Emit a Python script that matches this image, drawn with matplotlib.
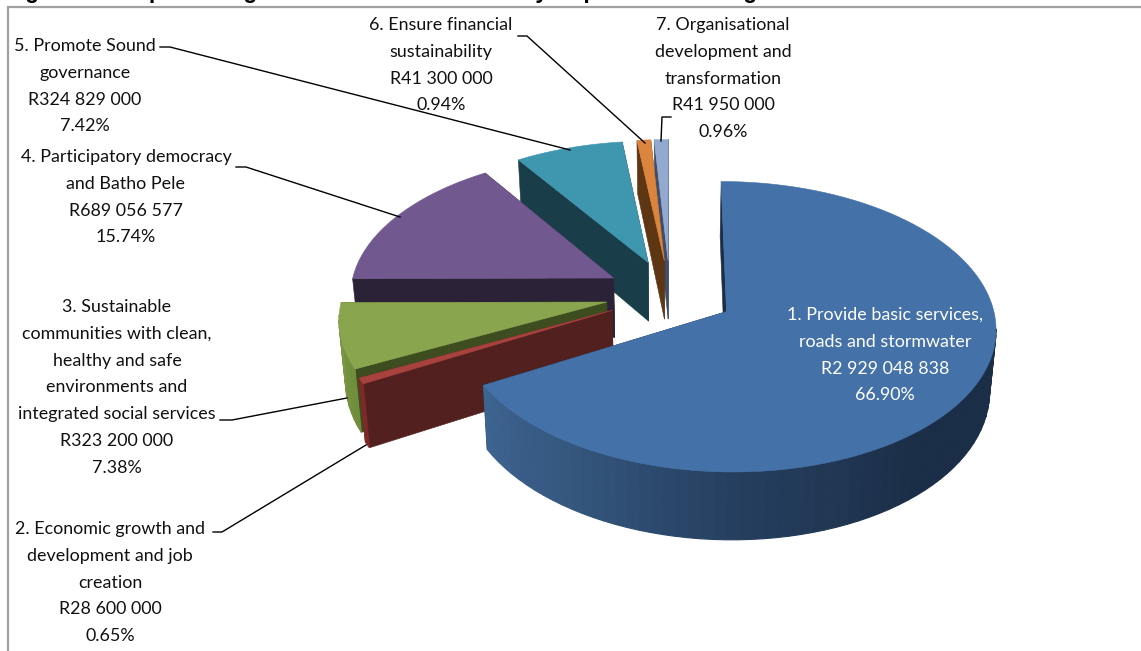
import numpy as np
import matplotlib
matplotlib.use("Agg")
import matplotlib.pyplot as plt
from matplotlib.colors import to_rgb
from matplotlib.patches import Polygon

# ---- data ----
values = [2929048838, 28600000, 323200000, 689056577, 324829000, 41300000, 41950000]
top_colors = ["#4471A7", "#A8423F", "#89A54E", "#71588F", "#3F96AF", "#DB843D", "#93A9CF"]
arc_colors = [
    [(240, "#3D6390"), (215, "#35587F"), (180, "#263F60"), (140, "#1B2E47"), (0, "#1B2E47")],
    [(0, "#7E2A28"), (360, "#7E2A28")],
    [(243, "#6F8C3C"), (270, "#7D9C44")],
    [(0, "#2C2238"), (360, "#2C2238")],
    [(0, "#1A3D4A"), (360, "#1A3D4A")],
    [(0, "#5E3614"), (360, "#5E3614")],
    [(0, "#3F4E6C"), (360, "#3F4E6C")],
]
wall_colors = ["#1B2E47", "#52201E", "#3E4D1F", "#2C2238", "#1A3D4A", "#5E3614", "#3F4E6C"]
draw_order = [6, 5, 4, 3, 2, 1, 0]

labels = [
    ["1. Provide basic services,", "roads and stormwater", "R2 929 048 838", "66.90%"],
    ["2. Economic growth and", "development and job", "creation", "R28 600 000", "0.65%"],
    ["3. Sustainable", "communities with clean,", "healthy and safe", "environments and",
     "integrated social services", "R323 200 000", "7.38%"],
    ["4. Participatory democracy", "and Batho Pele", "R689 056 577", "15.74%"],
    ["5. Promote Sound", "governance", "R324 829 000", "7.42%"],
    ["6. Ensure financial", "sustainability", "R41 300 000", "0.94%"],
    ["7. Organisational", "development and", "transformation", "R41 950 000", "0.96%"],
]
label_pos = [(885, 315), (110, 529), (117, 307), (126, 157), (85, 46), (441, 25), (723, 25)]
leaders = [
    None,
    [(213, 532), (222, 532), (366, 445)],
    [(220, 420), (232, 420), (347, 398)],
    [(236, 167), (246, 167), (400, 217)],
    [(160, 47), (170, 47), (570, 150)],
    [(518, 36), (527, 36), (645, 143)],
    [(671, 117), (662, 117), (661, 141)],
]
title = "Figure 12: Capital budget allocation for 2015/16 by Departmental Programme"

# ---- projection parameters (pixels) ----
CX, CY = 670, 294
RX, RY, K = 264, 140, 0.103
DEPTH, SHRINK = 60, 0.02
EXPLODE = 0.245


def project(ex, ey, z):
    """ex: east, ey: south (radius units); z: 0 top, 1 bottom"""
    s = 1 / (1 - K * ey)
    return CX + RX * ex * s * (1 - SHRINK * z), CY + RY * ey * s + DEPTH * z * s


def rim(a):
    r = np.radians(a)
    return np.sin(r), -np.cos(r)


def blend(stops, a):
    st = sorted(stops)
    xs = [p[0] for p in st]
    cs = np.array([to_rgb(p[1]) for p in st])
    return tuple(np.interp(a, xs, cs[:, i]) for i in range(3))


fig = plt.figure(figsize=(11.41, 6.51), dpi=100)
ax = fig.add_axes([0, 0, 1, 1])
ax.set_xlim(0, 1141)
ax.set_ylim(651, 0)
ax.axis("off")

# frame
ax.plot([7.5, 7.5, 1141], [651, 7, 7], color="#A0A0A0", lw=1.6, solid_joinstyle="miter", zorder=1)
ax.text(5, -2, title, fontsize=16.4, fontweight="bold", family="Liberation Sans",
        ha="left", va="baseline", color="black", zorder=2, clip_on=False)

total = sum(values)
edges = np.concatenate([[0], np.cumsum(values) / total * 360])
z = 3
for i in draw_order:
    a0, a1 = edges[i], edges[i + 1]
    mid = (a0 + a1) / 2
    ox, oy = rim(mid)
    ox, oy = ox * EXPLODE, oy * EXPLODE
    angs = np.linspace(a0, a1, max(int(np.ceil((a1 - a0) / 2.5)), 2) + 1)
    pts = [rim(a) for a in angs]
    top_arc = [project(ox + p[0], oy + p[1], 0) for p in pts]
    bot_arc = [project(ox + p[0], oy + p[1], 1) for p in pts]
    apex_t = project(ox, oy, 0)
    apex_b = project(ox, oy, 1)
    # radial walls
    for t, b in [(top_arc[-1], bot_arc[-1]), (top_arc[0], bot_arc[0])]:
        ax.add_patch(Polygon([apex_t, t, b, apex_b], closed=True,
                             fc=wall_colors[i], ec=wall_colors[i], lw=0.4, zorder=z))
        z += 1
    # outer wall, strip by strip, only where it faces the viewer
    for j in range(len(angs) - 1):
        am = (angs[j] + angs[j + 1]) / 2
        if rim(am)[1] < K:
            continue
        q = [top_arc[j], top_arc[j + 1], bot_arc[j + 1], bot_arc[j]]
        c = blend(arc_colors[i], am)
        ax.add_patch(Polygon(q, closed=True, fc=c, ec=c, lw=0.8, zorder=z))
        z += 1
    # top face
    ax.add_patch(Polygon([apex_t] + top_arc, closed=True, fc=top_colors[i],
                         ec=top_colors[i], lw=0.4, zorder=z))
    z += 1

# leaders
for ld in leaders:
    if ld:
        ax.plot([p[0] for p in ld], [p[1] for p in ld], color="black", lw=1.0, zorder=500)

# labels
PITCH = 26.8
for i, (lines, (x, y)) in enumerate(zip(labels, label_pos)):
    col = "white" if i == 0 else "#111111"
    for n, line in enumerate(lines):
        ax.text(x, y + n * PITCH, line, ha="center", va="center", color=col,
                fontsize=12.9, family="Lato", zorder=600)

fig.savefig("out.png", dpi=100)
